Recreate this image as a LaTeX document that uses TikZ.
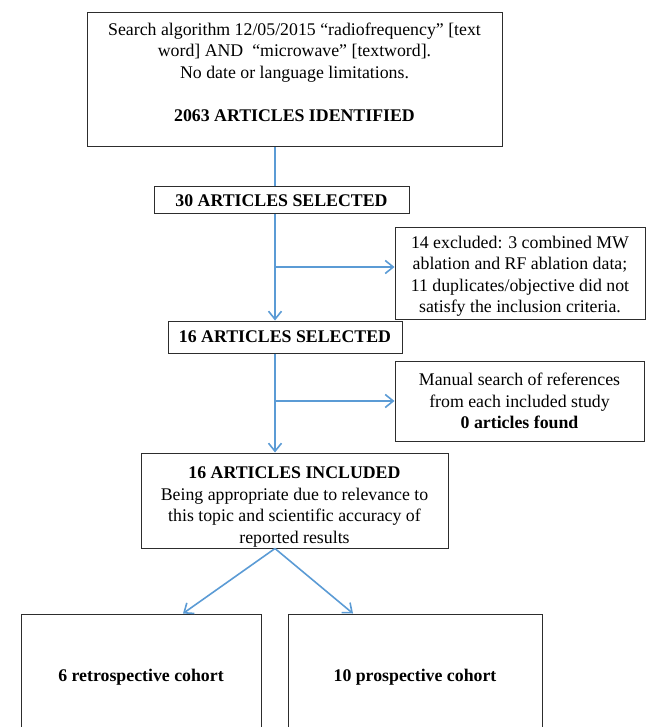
\documentclass[tikz,border=0pt]{standalone}
\usepackage{fontspec}
\setmainfont{Liberation Serif}
\usetikzlibrary{arrows.meta}
\definecolor{flowblue}{RGB}{91,155,213}
\definecolor{boxgray}{RGB}{45,45,45}
\newcommand{\boxlines}[2]{%
  \raisebox{#1}[\height][\depth]{\begin{tabular}{@{}c@{}}#2\end{tabular}}}

\begin{document}
\begin{tikzpicture}[x=1pt,y=-1pt,
    box/.style={draw=boxgray,line width=1pt,inner sep=0pt,align=center,
      font=\fontsize{17.8}{21.5}\selectfont},
    flow/.style={draw=flowblue,line width=1.6pt},
    flowarrow/.style={flow,-{Straight Barb[length=8pt,width=13pt,line width=1.6pt]}}]
      \clip (0,0) rectangle (650,727);
      \coordinate (spine) at (275,0);
      \node[box,minimum width=415,minimum height=134] (search) at (294.5,80)
        {\boxlines{6pt}{Search algorithm 12/05/2015 ``radiofrequency'' [text\\
         word] AND\ \ ``microwave'' [textword].\\
         No date or language limitations.\\[21.5pt]
         \textbf{2063 ARTICLES IDENTIFIED}}};
      \node[box,minimum width=255,minimum height=27] (sel30) at (281.5,200.5)
        {\textbf{30 ARTICLES SELECTED}};
      \node[box,minimum width=250,minimum height=92] (excl) at (520,273)
        {\boxlines{-3pt}{14 excluded: 3 combined MW\\
         ablation and RF ablation data;\\
         11 duplicates/objective did not\\
         satisfy the inclusion criteria.}};
      \node[box,minimum width=234,minimum height=32] (sel16) at (285,337)
        {\textbf{16 ARTICLES SELECTED}};
      \node[box,minimum width=249,minimum height=80] (manual) at (519.5,401)
        {Manual search of references\\
         from each included study\\
         \textbf{0 articles found}};
      \node[box,minimum width=307,minimum height=95] (incl) at (294.5,500.5)
        {\boxlines{-6pt}{\textbf{16 ARTICLES INCLUDED}\\
         Being appropriate due to relevance to\\
         this topic and scientific accuracy of\\
         reported results}};
      \node[box,minimum width=240,minimum height=126] (retro) at (141,677)
        {\textbf{6 retrospective cohort}};
      \node[box,minimum width=254,minimum height=126] (prosp) at (415,677)
        {\textbf{10 prospective cohort}};
      \coordinate (b1) at (275,267);
      \coordinate (b2) at (275,401);
      \draw[flow] (search.south -| spine) -- (sel30.north -| spine);
      \draw[flowarrow] (sel30.south -| spine) -- (sel16.north -| spine);
      \draw[flowarrow] (b1) -- (b1 -| excl.west);
      \draw[flowarrow] (sel16.south -| spine) -- (incl.north -| spine);
      \draw[flowarrow] (b2) -- (b2 -| manual.west);
      \draw[flowarrow] (incl.south -| spine) -- ([xshift=42pt]retro.north);
      \draw[flowarrow] (incl.south -| spine) -- ([xshift=-62pt]prosp.north);
\end{tikzpicture}
\end{document}
